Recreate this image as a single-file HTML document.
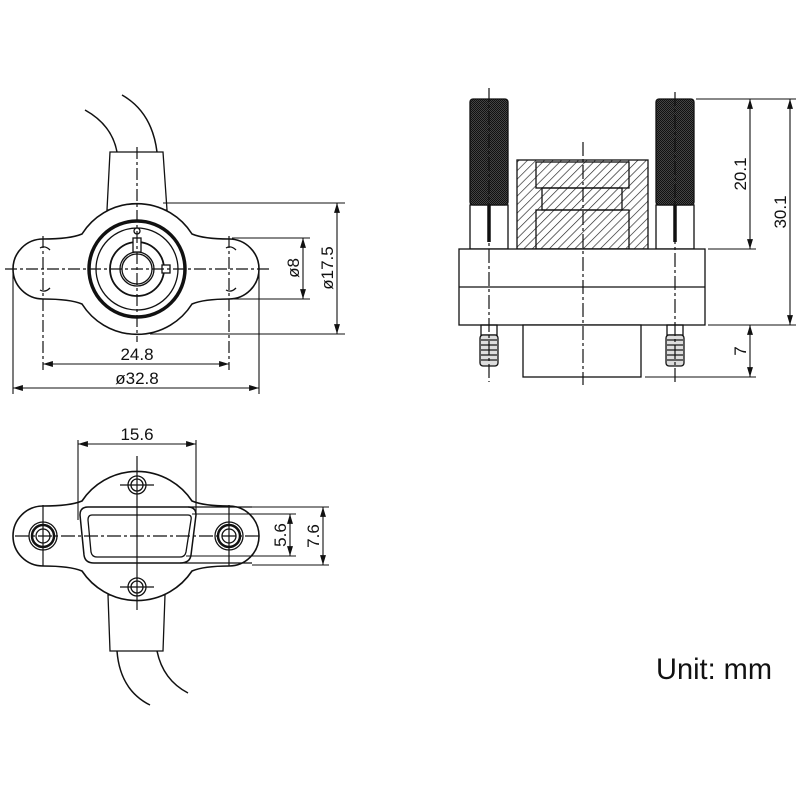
<!DOCTYPE html>
<html><head><meta charset="utf-8"><style>
html,body{margin:0;padding:0;background:#fff;}
svg{display:block;}
text{font-family:"Liberation Sans",sans-serif;fill:#111;}
</style></head><body>
<svg width="800" height="800" viewBox="0 0 800 800" xmlns="http://www.w3.org/2000/svg">
<defs>
<pattern id="knurl" width="2" height="2" patternUnits="userSpaceOnUse">
<rect width="2" height="2" fill="#444"/><rect width="1" height="1" fill="#111"/><rect x="1" y="1" width="1" height="1" fill="#111"/>
</pattern>
<pattern id="hatch" width="6" height="6" patternUnits="userSpaceOnUse" patternTransform="rotate(45)">
<rect width="6" height="6" fill="#fff"/><line x1="0" y1="0" x2="0" y2="6" stroke="#222" stroke-width="1.3"/>
</pattern>
<marker id="a" viewBox="0 0 10 10" refX="10" refY="5" markerWidth="9" markerHeight="9" orient="auto-start-reverse"><path d="M0,2 L10,5 L0,8z" fill="#111"/></marker>
</defs>
<g stroke="#111" fill="none" stroke-width="1.3">

<!-- ===== TOP-LEFT VIEW ===== -->
<path d="M85,110 Q112,125 117,152" stroke-width="1.5"/>
<path d="M122,95 Q152,112 157,152" stroke-width="1.5"/>
<path d="M110,152 L163,152 L167,210 L107,210 Z" fill="#fff"/>
<path d="M43,239 A30,30 0 0 0 43,299 Q70,299 82,304 A65,65 0 0 0 192,304 Q204,299 229,299 A30,30 0 0 0 229,239 Q204,239 192,234 A65,65 0 0 0 82,234 Q70,239 43,239 Z" fill="#fff" stroke-width="1.6"/>
<path d="M40,248 Q45,245 50,250 M40,290 Q45,293 50,288 M226,248 Q231,245 236,250 M226,290 Q231,293 236,288"/>
<circle cx="137" cy="269" r="48" stroke-width="3.5"/>
<circle cx="137" cy="269" r="41"/>
<circle cx="137" cy="269" r="27" stroke-width="1.8"/>
<circle cx="137" cy="269" r="17"/>
<circle cx="137" cy="269" r="15"/>
<rect x="133" y="238" width="8" height="14" fill="#fff"/>
<rect x="162" y="265" width="8" height="8" fill="#fff"/>
<circle cx="137" cy="231" r="3"/>
<g stroke-dasharray="12,3,3,3" stroke-width="1.2">
<line x1="5" y1="269" x2="270" y2="269"/><line x1="137" y1="147" x2="137" y2="342"/>
<line x1="43" y1="236" x2="43" y2="370"/><line x1="229" y1="236" x2="229" y2="370"/>
</g>
<g stroke-width="1.1">
<line x1="163" y1="203" x2="345" y2="203"/><line x1="150" y1="334" x2="345" y2="334"/>
<line x1="232" y1="238" x2="310" y2="238"/><line x1="232" y1="299" x2="310" y2="299"/>
<line x1="337" y1="203" x2="337" y2="334" marker-start="url(#a)" marker-end="url(#a)"/>
<line x1="303" y1="238" x2="303" y2="299" marker-start="url(#a)" marker-end="url(#a)"/>
<line x1="43" y1="364" x2="229" y2="364" marker-start="url(#a)" marker-end="url(#a)"/>
<line x1="13" y1="272" x2="13" y2="394"/><line x1="259" y1="272" x2="259" y2="394"/>
<line x1="13" y1="388" x2="259" y2="388" marker-start="url(#a)" marker-end="url(#a)"/>
</g>

<!-- ===== TOP-RIGHT VIEW ===== -->
<rect x="470" y="205" width="38" height="44" fill="#fff"/>
<rect x="656" y="205" width="38" height="44" fill="#fff"/>
<rect x="470" y="99" width="38" height="106" rx="3" fill="url(#knurl)"/>
<rect x="656" y="99" width="38" height="106" rx="3" fill="url(#knurl)"/>
<line x1="489" y1="205" x2="489" y2="242" stroke-width="3.5"/>
<line x1="675" y1="205" x2="675" y2="242" stroke-width="3.5"/>
<rect x="517" y="160" width="131" height="89" fill="url(#hatch)"/>
<rect x="536" y="162" width="93" height="26"/>
<rect x="542" y="188" width="80" height="22"/>
<rect x="536" y="210" width="93" height="39"/>
<rect x="459" y="249" width="246" height="76" fill="#fff"/>
<line x1="459" y1="287" x2="705" y2="287"/>
<rect x="523" y="325" width="118" height="52" fill="#fff"/>
<rect x="481" y="325" width="16" height="10"/><rect x="667" y="325" width="16" height="10"/>
<g fill="#ddd" stroke-width="1.3">
<rect x="480" y="335" width="18" height="31" rx="3"/><rect x="666" y="335" width="18" height="31" rx="3"/>
</g>
<g stroke-width="1.2">
<line x1="481" y1="340" x2="497" y2="340"/><line x1="481" y1="345" x2="497" y2="345"/><line x1="481" y1="350" x2="497" y2="350"/><line x1="481" y1="355" x2="497" y2="355"/><line x1="481" y1="360" x2="497" y2="360"/>
<line x1="667" y1="340" x2="683" y2="340"/><line x1="667" y1="345" x2="683" y2="345"/><line x1="667" y1="350" x2="683" y2="350"/><line x1="667" y1="355" x2="683" y2="355"/><line x1="667" y1="360" x2="683" y2="360"/>
</g>
<g stroke-dasharray="14,3,3,3" stroke-width="1.2">
<line x1="489" y1="88" x2="489" y2="382"/><line x1="675" y1="92" x2="675" y2="382"/><line x1="583" y1="142" x2="583" y2="385"/>
</g>
<g stroke-width="1.1">
<line x1="696" y1="99" x2="796" y2="99"/><line x1="708" y1="249" x2="756" y2="249"/>
<line x1="708" y1="325" x2="796" y2="325"/><line x1="645" y1="377" x2="756" y2="377"/>
<line x1="750" y1="99" x2="750" y2="249" marker-start="url(#a)" marker-end="url(#a)"/>
<line x1="790" y1="99" x2="790" y2="325" marker-start="url(#a)" marker-end="url(#a)"/>
<line x1="750" y1="325" x2="750" y2="377" marker-start="url(#a)" marker-end="url(#a)"/>
</g>

<!-- ===== BOTTOM-LEFT VIEW ===== -->
<path d="M117,651 Q120,690 150,705" stroke-width="1.5"/>
<path d="M157,651 Q163,680 188,693" stroke-width="1.5"/>
<path d="M108,595 L165,595 L163,651 L110,651 Z" fill="#fff"/>
<path d="M43,506 A30,30 0 0 0 43,566 Q70,566 82,571 A66,66 0 0 0 192,571 Q204,566 229,566 A30,30 0 0 0 229,506 Q204,506 192,501 A66,66 0 0 0 82,501 Q70,506 43,506 Z" fill="#fff" stroke-width="1.6"/>
<path d="M188,507 L252,507 M180,563 L252,563"/>
<path d="M88,507 Q80,507 80,515 L84,555 Q85,563 94,563 L180,563 Q190,563 191,555 L196,515 Q196,507 188,507 Z" stroke-width="1.5"/>
<path d="M92,515 L188,515 Q192,515 191,520 L186,552 Q185,557 180,557 L97,557 Q92,557 91,552 L88,520 Q88,515 92,515 Z"/>
<circle cx="43" cy="536" r="14"/><circle cx="43" cy="536" r="11" stroke-width="2.5"/><circle cx="43" cy="536" r="7"/>
<circle cx="229" cy="536" r="14"/><circle cx="229" cy="536" r="11" stroke-width="2.5"/><circle cx="229" cy="536" r="7"/>
<circle cx="137" cy="485" r="9"/><circle cx="137" cy="485" r="6"/>
<circle cx="137" cy="587" r="9"/><circle cx="137" cy="587" r="6"/>
<g stroke-width="1.2">
<line x1="120" y1="485" x2="154" y2="485"/><line x1="120" y1="587" x2="154" y2="587"/>
<line x1="43" y1="505" x2="43" y2="566"/><line x1="229" y1="505" x2="229" y2="566"/>
<line x1="137" y1="456" x2="137" y2="610"/>
</g>
<line x1="15" y1="536" x2="260" y2="536" stroke-dasharray="14,3,3,3" stroke-width="1.2"/>
<g stroke-width="1.1">
<line x1="78" y1="440" x2="78" y2="520"/><line x1="196" y1="440" x2="196" y2="515"/>
<line x1="78" y1="444" x2="196" y2="444" marker-start="url(#a)" marker-end="url(#a)"/>
<line x1="192" y1="514" x2="296" y2="514"/><line x1="186" y1="556" x2="296" y2="556"/>
<line x1="252" y1="507" x2="329" y2="507"/><line x1="252" y1="565" x2="329" y2="565"/>
<line x1="290" y1="514" x2="290" y2="556" marker-start="url(#a)" marker-end="url(#a)"/>
<line x1="323" y1="507" x2="323" y2="565" marker-start="url(#a)" marker-end="url(#a)"/>
</g>
</g>

<g font-size="17">
<text x="137" y="360" text-anchor="middle">24.8</text>
<text x="137" y="384" text-anchor="middle">ø32.8</text>
<text transform="translate(299,268) rotate(-90)" text-anchor="middle">ø8</text>
<text transform="translate(333,268) rotate(-90)" text-anchor="middle">ø17.5</text>
<text transform="translate(746,174) rotate(-90)" text-anchor="middle">20.1</text>
<text transform="translate(786,212) rotate(-90)" text-anchor="middle">30.1</text>
<text transform="translate(746,351) rotate(-90)" text-anchor="middle">7</text>
<text x="137" y="440" text-anchor="middle">15.6</text>
<text transform="translate(286,535) rotate(-90)" text-anchor="middle">5.6</text>
<text transform="translate(319,536) rotate(-90)" text-anchor="middle">7.6</text>
</g>
<text x="656" y="679" font-size="30" textLength="116" lengthAdjust="spacingAndGlyphs">Unit:  mm</text>
</svg>
</body></html>
